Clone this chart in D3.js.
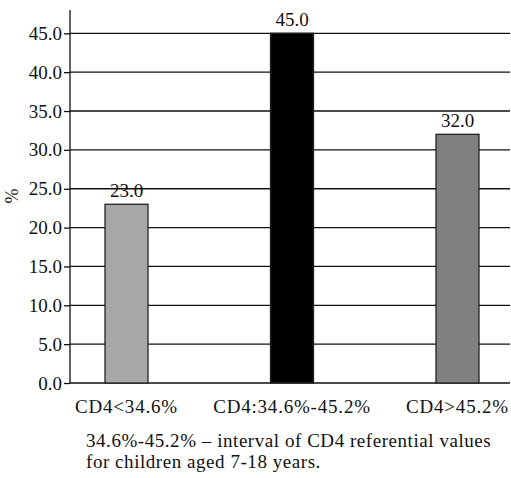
<!DOCTYPE html>
<html>
<head>
<meta charset="utf-8">
<script src="https://cdn.jsdelivr.net/npm/d3@7"></script>
<style>
  html, body { margin: 0; padding: 0; background: #fff; }
  svg text { font-family: "Liberation Serif", "Times New Roman", "DejaVu Serif", serif; fill: #111; }
</style>
</head>
<body>
<svg id="chart" width="511" height="478"></svg>
<script>
// CD4 groups and share of children (%)
const categories = ["CD4<34.6%", "CD4:34.6%-45.2%", "CD4>45.2%"];
const values = [23.0, 45.0, 32.0];
const barColors = ["#a8a8a8", "#000000", "#808080"];
const yTicks = [0, 5, 10, 15, 20, 25, 30, 35, 40, 45];
const yLabel = "%";
const noteLines = [
  "34.6%-45.2% \u2013 interval of CD4 referential values",
  "for children aged 7-18 years."
];

const svg = d3.select("#chart");
const plotLeft = 70, plotRight = 510, plotTop = 10, plotBottom = 383;

const y = d3.scaleLinear().domain([0, 48]).range([plotBottom, plotTop]);
const x = d3.scalePoint().domain(categories).range([126.5, 457.5]);
const barW = 43;

// horizontal grid lines at each tick
svg.append("g")
  .selectAll("line")
  .data(yTicks.filter(d => d > 0))
  .join("line")
  .attr("x1", plotLeft).attr("x2", plotRight)
  .attr("y1", d => y(d)).attr("y2", d => y(d))
  .attr("stroke", "#111").attr("stroke-width", 1.3);

// y axis
const yAxis = d3.axisLeft(y).tickValues(yTicks).tickFormat(d3.format(".1f")).tickSize(6).tickPadding(2);
const gy = svg.append("g").attr("transform", `translate(${plotLeft},0)`).call(yAxis);
gy.select(".domain").attr("stroke", "#111").attr("stroke-width", 1.3).attr("d", `M0,${plotTop}V${plotBottom}`);
gy.selectAll(".tick line").attr("stroke", "#111").attr("stroke-width", 1.3);
gy.selectAll(".tick text").attr("font-size", 19).attr("font-family", null).attr("fill", "#111");

// x baseline
svg.append("line")
  .attr("x1", plotLeft).attr("x2", plotRight)
  .attr("y1", y(0)).attr("y2", y(0))
  .attr("stroke", "#111").attr("stroke-width", 1.3);

// bars
svg.append("g")
  .selectAll("rect")
  .data(values)
  .join("rect")
  .attr("x", (d, i) => x(categories[i]) - barW / 2)
  .attr("width", barW)
  .attr("y", d => y(d))
  .attr("height", d => y(0) - y(d))
  .attr("fill", (d, i) => barColors[i])
  .attr("stroke", "#222").attr("stroke-width", 1.3);

// value labels
svg.append("g")
  .selectAll("text")
  .data(values)
  .join("text")
  .attr("x", (d, i) => x(categories[i]))
  .attr("y", d => y(d) - 7)
  .attr("text-anchor", "middle")
  .attr("font-size", 19)
  .text(d => d3.format(".1f")(d));

// category labels
svg.append("g")
  .selectAll("text")
  .data(categories)
  .join("text")
  .attr("x", d => x(d))
  .attr("y", 413)
  .attr("text-anchor", "middle")
  .attr("font-size", 19)
  .attr("letter-spacing", 0.8)
  .text(d => d);

// y label, rotated
svg.append("text")
  .attr("transform", "translate(18,196) rotate(-90)")
  .attr("text-anchor", "middle")
  .attr("font-size", 18)
  .text(yLabel);

// footnote
svg.append("g")
  .selectAll("text")
  .data(noteLines)
  .join("text")
  .attr("x", 86)
  .attr("y", (d, i) => 447 + i * 21)
  .attr("font-size", 19)
  .attr("letter-spacing", 0.55)
  .text(d => d);
</script>
</body>
</html>
